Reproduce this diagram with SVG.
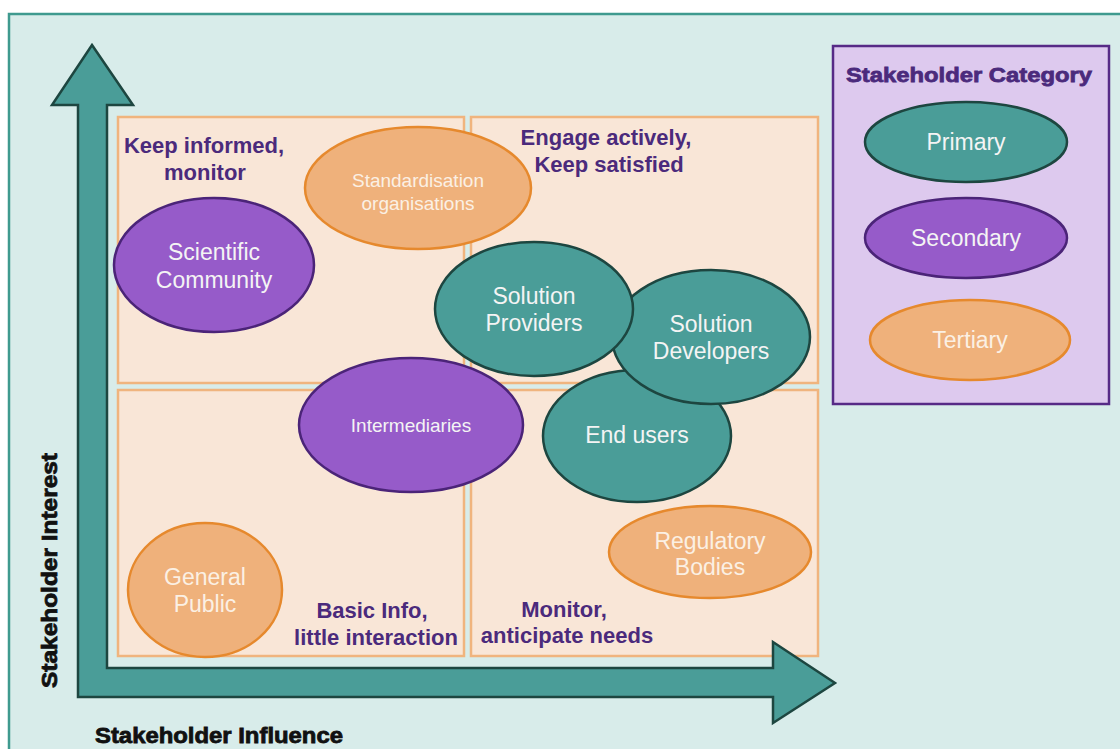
<svg xmlns="http://www.w3.org/2000/svg" width="1120" height="749" viewBox="0 0 1120 749">
<style>
.quad{fill:#f9e6d7;stroke:#f0b47e;stroke-width:2.5}
.teal{fill:#4a9d98;stroke:#1d4640;stroke-width:2.5}
.purp{fill:#965bc9;stroke:#4b2478;stroke-width:2.5}
.orng{fill:#efb17b;stroke:#e6892d;stroke-width:2.5}
.lbl{font-family:"Liberation Sans",Arial,sans-serif;font-size:23px;fill:#f4f4f4;text-anchor:middle}
.sm{font-size:19px}
.olbl{fill:#fbf0e4}
.ql{font-family:"Liberation Sans",Arial,sans-serif;font-size:22px;font-weight:bold;fill:#4b2a7c;text-anchor:middle}
.ax{font-family:"Liberation Sans",Arial,sans-serif;font-size:22px;font-weight:900;fill:#111;stroke:#111;stroke-width:0.8}
</style>
<rect x="0" y="0" width="1120" height="749" fill="#ffffff"/>
<rect x="9" y="14" width="1120" height="750" fill="#d8ecea" stroke="#3f9a8f" stroke-width="2.5"/>

<g id="quadrants">
<rect class="quad" x="118" y="117" width="346" height="266"/>
<rect class="quad" x="471" y="117" width="347" height="266"/>
<rect class="quad" x="118" y="390" width="346" height="266"/>
<rect class="quad" x="471" y="390" width="347" height="266"/>
</g>

<g id="connectors">
<polygon points="92,45 133,105 107,105 107,668 773,668 773,642 835,683 773,723 773,697 78,697 78,105 52,105" fill="#4a9d98" stroke="#1d4640" stroke-width="2.5" stroke-linejoin="miter"/>
</g>

<g id="quadrant-labels">
<text class="ql" x="204" y="153">Keep informed,</text>
<text class="ql" x="205" y="180">monitor</text>
<text class="ql" x="606" y="145">Engage actively,</text>
<text class="ql" x="609" y="172">Keep satisfied</text>
<text class="ql" x="372" y="618">Basic Info,</text>
<text class="ql" x="376" y="645">little interaction</text>
<text class="ql" x="564" y="617">Monitor,</text>
<text class="ql" x="567" y="643">anticipate needs</text>
</g>

<g id="node-standardisation">
<ellipse class="orng" cx="418" cy="188" rx="113" ry="61"/>
<text class="lbl olbl sm" x="418" y="187">Standardisation</text>
<text class="lbl olbl sm" x="418" y="210">organisations</text>
</g>

<g id="node-scientific">
<ellipse class="purp" cx="214" cy="265" rx="100" ry="67"/>
<text class="lbl" x="214" y="260">Scientific</text>
<text class="lbl" x="214" y="288">Community</text>
</g>

<g id="node-end-users">
<ellipse class="teal" cx="637" cy="436" rx="94" ry="66"/>
<text class="lbl" x="637" y="443">End users</text>
</g>

<g id="node-solution-developers">
<ellipse class="teal" cx="711" cy="337" rx="99" ry="67"/>
<text class="lbl" x="711" y="332">Solution</text>
<text class="lbl" x="711" y="359">Developers</text>
</g>

<g id="node-solution-providers">
<ellipse class="teal" cx="534" cy="309" rx="99" ry="67"/>
<text class="lbl" x="534" y="304">Solution</text>
<text class="lbl" x="534" y="331">Providers</text>
</g>

<g id="node-intermediaries">
<ellipse class="purp" cx="411" cy="425" rx="112" ry="67"/>
<text class="lbl sm" x="411" y="432">Intermediaries</text>
</g>

<g id="node-general-public">
<ellipse class="orng" cx="205" cy="590" rx="77" ry="67"/>
<text class="lbl olbl" x="205" y="585">General</text>
<text class="lbl olbl" x="205" y="612">Public</text>
</g>

<g id="node-regulatory">
<ellipse class="orng" cx="710" cy="552" rx="101" ry="46"/>
<text class="lbl olbl" x="710" y="549">Regulatory</text>
<text class="lbl olbl" x="710" y="575">Bodies</text>
</g>

<g id="legend">
<rect x="833" y="46" width="276" height="358" fill="#ddc9ee" stroke="#562a86" stroke-width="2.5"/>
<text class="ax" x="846" y="82" textLength="246" lengthAdjust="spacingAndGlyphs" style="fill:#4b2a7c;stroke:#4b2a7c;font-size:21px">Stakeholder Category</text>
<g id="legend-primary">
<ellipse class="teal" cx="966" cy="142" rx="101" ry="40"/>
<text class="lbl" x="966" y="150">Primary</text>
</g>
<g id="legend-secondary">
<ellipse class="purp" cx="966" cy="238" rx="101" ry="40"/>
<text class="lbl" x="966" y="246">Secondary</text>
</g>
<g id="legend-tertiary">
<ellipse class="orng" cx="970" cy="340" rx="100" ry="40"/>
<text class="lbl olbl" x="970" y="348">Tertiary</text>
</g>
</g>

<g id="axis-labels">
<text class="ax" transform="translate(57,688) rotate(-90)" x="0" y="0" textLength="235" lengthAdjust="spacingAndGlyphs">Stakeholder Interest</text>
<text class="ax" x="95" y="743" textLength="248" lengthAdjust="spacingAndGlyphs">Stakeholder Influence</text>
</g>
</svg>
